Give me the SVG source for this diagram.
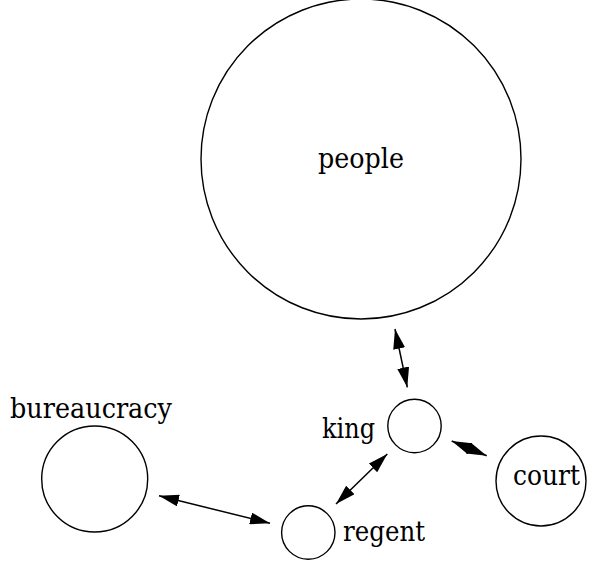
<svg xmlns="http://www.w3.org/2000/svg" width="597" height="565" viewBox="0 0 597 565">
<defs>
<style>
.node{fill:none;stroke:#000;stroke-width:1.4}
.lbl{font-family:'DejaVu Serif','Liberation Serif',serif;font-size:27px;fill:#000}
.edge{stroke:#000;stroke-width:1.5;fill:none}
</style>
<marker id="ah" markerUnits="userSpaceOnUse" markerWidth="20" markerHeight="12" refX="20" refY="6" orient="auto-start-reverse">
<path d="M0,0 L20,6 L0,12 Z" fill="#000"/>
</marker>
</defs>
<rect width="597" height="565" fill="#fff"/>
<g id="people">
<circle class="node" cx="361" cy="159" r="160"/>
<text class="lbl" x="361" y="168" text-anchor="middle" textLength="86" lengthAdjust="spacingAndGlyphs">people</text>
</g>
<g id="king">
<circle class="node" cx="414.5" cy="426" r="26.7"/>
<text class="lbl" x="322" y="438" textLength="53" lengthAdjust="spacingAndGlyphs">king</text>
</g>
<g id="court">
<circle class="node" cx="541" cy="481" r="45"/>
<text class="lbl" x="513" y="485" textLength="67" lengthAdjust="spacingAndGlyphs">court</text>
</g>
<g id="bureaucracy">
<circle class="node" cx="94.7" cy="479" r="53"/>
<text class="lbl" x="10" y="418" textLength="162" lengthAdjust="spacingAndGlyphs">bureaucracy</text>
</g>
<g id="regent">
<circle class="node" cx="308.3" cy="532.5" r="26.7"/>
<text class="lbl" x="343" y="541" textLength="82" lengthAdjust="spacingAndGlyphs">regent</text>
</g>
<g id="connectors">
<line class="edge" x1="395" y1="329" x2="407.3" y2="387.3" marker-start="url(#ah)" marker-end="url(#ah)"/>
<line class="edge" x1="451.7" y1="441" x2="486.7" y2="455.7" marker-start="url(#ah)" marker-end="url(#ah)"/>
<line class="edge" x1="159" y1="495.7" x2="270" y2="523.3" marker-start="url(#ah)" marker-end="url(#ah)"/>
<line class="edge" x1="336" y1="504" x2="387.3" y2="454" marker-start="url(#ah)" marker-end="url(#ah)"/>
</g>
</svg>
